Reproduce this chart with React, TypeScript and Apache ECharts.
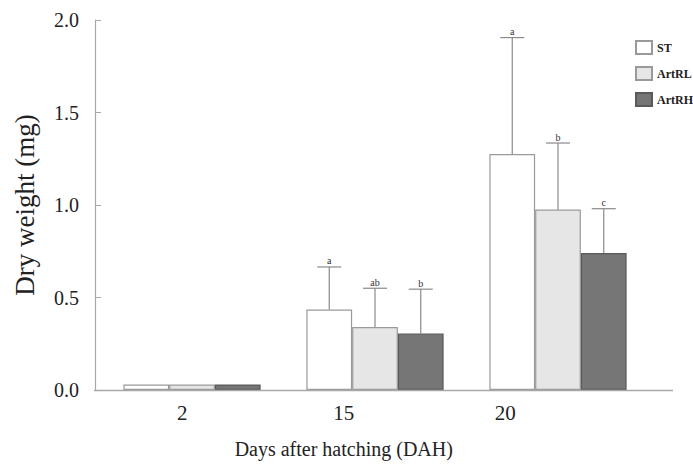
import React, { useEffect, useRef } from "react";
import * as echarts from "echarts";

const categories = ["2", "15", "20"];
const seriesNames = ["ST", "ArtRL", "ArtRH"];
const stValues = [0.03, 0.435, 1.275];
const artRLValues = [0.03, 0.34, 0.975];
const artRHValues = [0.03, 0.305, 0.74];
const stSD = [0, 0.23, 0.63];
const artRLSD = [0, 0.21, 0.36];
const artRHSD = [0, 0.24, 0.24];
const stLetters = ["", "a", "a"];
const artRLLetters = ["", "ab", "b"];
const artRHLetters = ["", "b", "c"];
const yTicks = [0, 0.5, 1.0, 1.5, 2.0];

const fills = ["#ffffff", "#e6e6e6", "#767676"];
const borders = ["#9a9a9a", "#9a9a9a", "#5a5a5a"];
const SERIF = "Times New Roman, Liberation Serif, DejaVu Serif, serif";

export default function App() {
  const ref = useRef<HTMLDivElement>(null);
  useEffect(() => {
    if (!ref.current) return;
    const chart = echarts.init(ref.current, undefined, { renderer: "svg" });
    const values = [stValues, artRLValues, artRHValues];
    const sds = [stSD, artRLSD, artRHSD];
    const letters = [stLetters, artRLLetters, artRHLetters];

    const barSeries = values.map((vals, i) => ({
      name: seriesNames[i],
      type: "bar",
      xAxisIndex: 0,
      yAxisIndex: 0,
      data: vals,
      barWidth: "25%",
      barGap: "0%",
      itemStyle: { color: fills[i], borderColor: borders[i], borderWidth: 1.2 },
      z: 2,
    }));

    const errSeries = values.map((vals, i) => ({
      name: seriesNames[i] + "-err",
      type: "custom",
      xAxisIndex: 0,
      yAxisIndex: 0,
      z: 3,
      itemStyle: { color: "#333333" },
      data: vals.map((v, j) => [j, v, v + sds[i][j]]),
      renderItem: (params: any, api: any) => {
        const idx = api.value(0);
        const v = api.value(1);
        const up = api.value(2);
        const letter = letters[i][idx];
        if (up <= v) return { type: "group", children: [] };
        const band = api.size([1, 0])[0];
        const off = (i - 1) * band * 0.25;
        const p0 = api.coord([idx, v]);
        const p1 = api.coord([idx, up]);
        const x = p0[0] + off;
        const half = 12;
        const st = { stroke: "#8a8a8a", lineWidth: 1.2 };
        return {
          type: "group",
          children: [
            { type: "line", shape: { x1: x, y1: p0[1], x2: x, y2: p1[1] }, style: st },
            { type: "line", shape: { x1: x - half, y1: p1[1], x2: x + half, y2: p1[1] }, style: st },
            {
              type: "text",
              style: {
                text: letter,
                x: x,
                y: p1[1] - 1,
                align: "center",
                verticalAlign: "bottom",
                fill: "#333333",
                fontFamily: SERIF,
                fontSize: 10,
              },
            },
          ],
        };
      },
    }));

    chart.setOption({
      animation: false,
      backgroundColor: "#ffffff",
      textStyle: { fontFamily: SERIF },
      grid: [
        { left: 100.5, top: 20, width: 549, height: 370, containLabel: false },
        { left: 101.5, top: 20, width: 484.5, height: 370, containLabel: false },
      ],
      legend: {
        data: seriesNames,
        orient: "vertical",
        left: 635,
        top: 40,
        padding: 0,
        itemWidth: 16,
        itemHeight: 13,
        itemGap: 11,
        icon: "rect",
        textStyle: { fontFamily: SERIF, fontSize: 12, fontWeight: "bold", color: "#222" },
      },
      xAxis: [
        {
          type: "category",
          gridIndex: 0,
          data: categories,
          axisLine: { show: false },
          axisTick: { show: false },
          axisLabel: { show: false },
        },
        {
          type: "category",
          gridIndex: 1,
          data: categories,
          axisLine: { show: false },
          axisTick: { show: false },
          axisLabel: { show: true, fontFamily: SERIF, fontSize: 21, color: "#222", margin: 15 },
          name: "Days after hatching (DAH)",
          nameLocation: "middle",
          nameGap: 52,
          nameTextStyle: { fontFamily: SERIF, fontSize: 20, color: "#222" },
        },
      ],
      yAxis: [
        {
          type: "value",
          gridIndex: 0,
          min: 0,
          max: 2,
          interval: 0.5,
          offset: 5.5,
          axisLine: { show: true, lineStyle: { color: "#a8a8a8", width: 1.2 } },
          axisTick: { show: true, inside: true, length: 6, lineStyle: { color: "#a8a8a8" } },
          splitLine: { show: false },
          axisLabel: {
            fontFamily: SERIF,
            fontSize: 20,
            color: "#222",
            margin: 16,
            formatter: (v: number) => (yTicks.includes(v) ? v.toFixed(1) : ""),
          },
          name: "Dry weight (mg)",
          nameLocation: "middle",
          nameRotate: 90,
          nameGap: 57,
          nameTextStyle: { fontFamily: SERIF, fontSize: 27, color: "#222" },
        },
        {
          type: "value",
          gridIndex: 1,
          min: 0,
          max: 2,
          show: false,
        },
      ],
      graphic: [
        {
          type: "line",
          shape: { x1: 94, y1: 390.5, x2: 673, y2: 390.5 },
          style: { stroke: "#a8a8a8", lineWidth: 1.5 },
          z: 10,
        },
      ],
      series: [...barSeries, ...errSeries],
    });
    return () => chart.dispose();
  }, []);
  return (
    <div
      ref={ref}
      style={{ position: "fixed", left: 0, top: 0, width: 693, height: 464, background: "#fff" }}
    />
  );
}
